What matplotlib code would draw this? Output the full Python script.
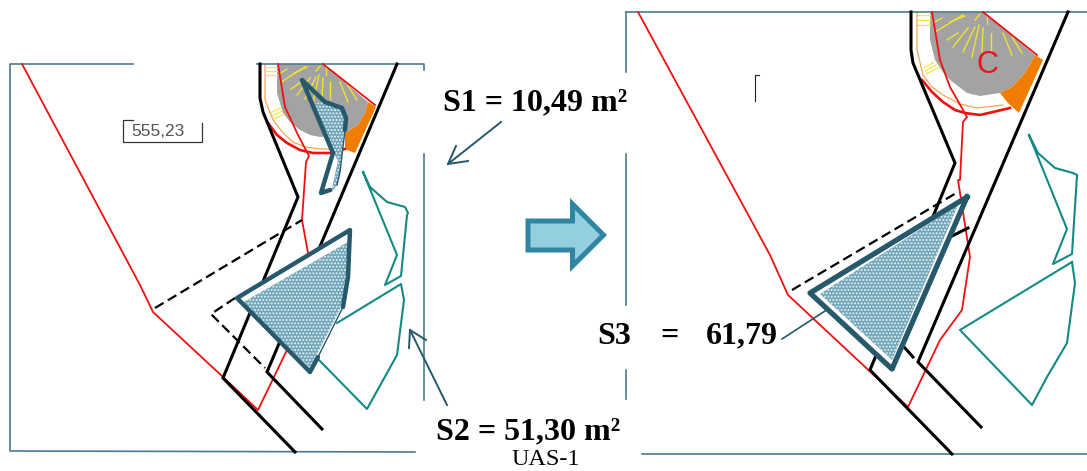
# Site plan comparison, drawn in the pixel coordinates of the picture
import matplotlib
matplotlib.use("Agg")
import matplotlib.pyplot as plt

plt.rcParams['hatch.linewidth'] = 1.0

TEAL = '#26596b'
FRAME = '#4a7c8e'
GREEN = '#138a85'
RED = '#f01010'

# left panel
left_frame = [[(133, 64), (10, 64), (10, 451), (415, 452)], [(257, 64), (424, 64), (424, 70)], [(424, 154), (424, 400)]]
left_black = [[(260, 64), (260, 98), (263, 112), (298, 197), (223, 378), (295, 452)],
              [(397, 64), (267, 372), (322, 429)]]
left_red = [[(22, 64), (140, 285), (153, 312), (223, 377), (258, 410), (287, 350), (308, 253), (302, 220), (306, 162), (309, 156), (298, 135), (285, 107), (278, 64)],
            [(323, 64), (375, 105)]]
left_arc = [[(268, 123), (277, 135), (287, 143), (300, 150), (313, 153), (330, 153), (345, 149)]]
left_dashed = [[(155, 308), (302, 220)], [(235, 298), (211, 314), (265, 368)]]
left_green = [[(363, 172), (397, 255), (385, 285), (401, 276), (407, 215), (408, 213), (405, 207), (387, 202), (370, 187), (363, 172)],
              [(337, 323), (401, 284), (404, 300), (397, 355), (367, 409), (317, 358)]]
left_gray = [(277, 64), (277, 93), (283, 113), (290, 122), (300, 130), (310, 135), (320, 137), (333, 136), (345, 133), (358, 125), (365, 113), (368, 102), (323, 64)]
left_orange = [(368, 102), (376, 107), (355, 153), (345, 149), (345, 133), (358, 125), (365, 113)]
left_thin = [(265, 64), (265, 100), (273, 120), (283, 133), (293, 142), (305, 147), (320, 149), (345, 149)]
left_rays = [[(279, 74), (287, 69)], [(291, 89), (301, 82)], [(297, 95), (310, 78)], [(305, 99), (316, 77)],
             [(313, 103), (319, 75)], [(322, 99), (323, 78)], [(330, 99), (330, 82)], [(326, 75), (326, 67)],
             [(348, 102), (340, 82)], [(357, 100), (348, 86)], [(281, 82), (305, 67)], [(294, 73), (307, 67)], [(316, 71), (320, 66)]]
left_steps = [[(266, 67), (277, 67)], [(266, 71), (277, 71)], [(266, 75), (277, 75)],
              [(270, 113), (280, 108)], [(272, 116), (282, 111)], [(274, 119), (284, 114)]]
s1_thick = [(345, 130), (346, 118), (342, 108), (325, 102), (302, 80), (333, 153), (321, 193), (330, 190)]
s1_edge = [(345, 130), (340, 172), (337, 185)]
s1_fill = [(315, 103), (325, 102), (342, 108), (345, 118), (340, 173), (337, 185), (331, 193), (338, 160), (333, 153)]
s2_thick = [(343, 307), (348, 277), (350, 230), (237, 298), (310, 372), (318, 357)]
s2_edge = [(343, 307), (318, 357)]
s2_outline = [(350, 230), (237, 298), (310, 372), (343, 307)]
s2_fill = [(348, 242), (242, 303), (310, 368), (331, 327), (342, 305), (346, 277)]

# right panel
right_frame = [[(626, 12), (1087, 12)], [(626, 12), (626, 72)], [(626, 154), (626, 305)], [(626, 370), (626, 399)], [(642, 454), (1087, 454)]]
right_black = [[(911, 12), (911, 50), (913, 63), (955, 163), (870, 370), (952, 454)],
               [(1068, 12), (918, 362), (981, 427)],
               [(950, 237), (968, 228)], [(905, 348), (913, 357)]]
right_red = [[(638, 12), (770, 255), (788, 295), (908, 407), (940, 340), (962, 310), (970, 257), (958, 180), (960, 180), (963, 122), (967, 117), (950, 87), (940, 60), (932, 12)],
             [(983, 12), (1037, 55)]]
right_arc = [[(922, 80), (932, 92), (943, 102), (955, 110), (965, 113), (980, 115), (1010, 108)]]
right_dashed = [[(792, 290), (958, 192)]]
right_green = [[(1029, 135), (1067, 229), (1053, 264), (1072, 254), (1077, 175), (1073, 173), (1055, 168), (1038, 153), (1029, 135)],
               [(1072, 262), (1075, 283), (1067, 343), (1047, 377), (1032, 405), (960, 330), (1072, 262)]]
right_gray = [(930, 12), (930, 40), (935, 60), (942, 71), (950, 80), (967, 93), (980, 96), (1000, 93), (1012, 87), (1025, 73), (1035, 55), (983, 12)]
right_orange = [(1035, 55), (1043, 60), (1019, 113), (1008, 103), (1000, 93), (1012, 87), (1025, 73)]
right_thin = [(917, 12), (917, 50), (923, 75), (932, 87), (943, 95), (960, 104), (977, 108), (1003, 105)]
right_rays = [[(933, 23), (942, 18)], [(947, 40), (958, 33)], [(953, 47), (968, 28)], [(963, 52), (975, 27)],
              [(972, 57), (979, 25)], [(982, 52), (983, 28)], [(991, 52), (991, 33)], [(987, 24), (987, 16)],
              [(1012, 55), (1003, 33)], [(1022, 53), (1012, 37)], [(935, 32), (963, 15)], [(950, 22), (965, 16)], [(975, 20), (980, 14)]]
right_steps = [[(917, 15), (930, 15)], [(917, 20), (930, 20)], [(917, 25), (930, 25)],
               [(924, 68), (934, 62)], [(925, 71), (936, 65)], [(926, 74), (938, 68)]]
s3_thick = [(967, 197), (810, 293), (892, 369), (967, 197)]
s3_fill = [(958, 205), (820, 294), (892, 360)]
s3_leader = [(782, 339), (825, 311)]

# arrows and label box
big_arrow = [(528, 221), (572.5, 221), (572.5, 204), (603.5, 235), (572.5, 266), (572.5, 250), (528, 250), (528, 221)]
box_lines = [[(133, 120), (123, 120), (123, 142), (202, 142), (202, 123)]]
tick_lines = [[(759, 75), (755, 75), (755, 101)]]
s1_arrow = [[(501, 122), (448, 164)], [(456, 146), (448, 164), (468, 161)]]
s2_arrow = [[(447, 405), (410, 330)], [(409, 348), (410, 330), (426, 340)]]


def draw(ax, lines, **kw):
    for pts in lines:
        ax.plot([p[0] for p in pts], [p[1] for p in pts], **kw)


def fill(ax, pts, **kw):
    ax.fill([p[0] for p in pts], [p[1] for p in pts], **kw)


fig = plt.figure(figsize=(10.87, 4.71), dpi=100)
ax = fig.add_axes([0, 0, 1, 1])
ax.set_xlim(0, 1087)
ax.set_ylim(471, 0)
ax.axis('off')

for gray, orange in [(left_gray, left_orange), (right_gray, right_orange)]:
    fill(ax, gray, color='#a3a3a3', lw=0)
    fill(ax, orange, color='#f07c00', lw=0)

for rays, steps, thin in [(left_rays, left_steps, left_thin), (right_rays, right_steps, right_thin)]:
    draw(ax, rays, color='#f2e22e', lw=1.0)
    draw(ax, steps, color='#f5e63c', lw=0.9)
    draw(ax, [thin], color='#f5a55a', lw=0.9)

draw(ax, left_frame + right_frame, color=FRAME, lw=1.2)
draw(ax, left_red + right_red, color=RED, lw=1.3)
draw(ax, left_arc + right_arc, color=RED, lw=1.9)
draw(ax, left_green + right_green, color=GREEN, lw=1.5)
draw(ax, left_black + right_black, color='black', lw=2.2, solid_joinstyle='miter')
draw(ax, left_dashed + right_dashed, color='black', lw=1.6, dashes=(4.5, 2.2))

# the shaded parts hide whatever runs under them
fill(ax, s2_outline, color='white', lw=0, zorder=3)
fill(ax, s3_thick, color='white', lw=0, zorder=3)
for pts in [s1_fill, s2_fill, s3_fill]:
    fill(ax, pts, facecolor='#6fa5b8', edgecolor='#e8f1f4', hatch='.....', lw=0, zorder=4)

draw(ax, [s1_edge, s2_edge], color=TEAL, lw=1.0, zorder=5)
draw(ax, [s1_thick, s2_thick], color=TEAL, lw=3.2, solid_joinstyle='round', solid_capstyle='round', zorder=5)
draw(ax, [s3_thick], color=TEAL, lw=3.8, solid_joinstyle='round', zorder=5)
draw(ax, [s3_leader], color=TEAL, lw=1.2)

fill(ax, big_arrow, facecolor='#94cfe0', edgecolor='#2f86a3', lw=3.6, joinstyle='miter')

draw(ax, box_lines, color='#333333', lw=0.9)
draw(ax, tick_lines, color='#222222', lw=0.8)
draw(ax, s1_arrow + s2_arrow, color=TEAL, lw=1.4)

serif = dict(family='Liberation Serif', color='black', va='center')
ax.text(535.5, 102.5, 'S1 = 10,49 m²', ha='center', fontsize=23, fontweight='bold', **serif)
ax.text(528, 431.5, 'S2 = 51,30 m²', ha='center', fontsize=23, fontweight='bold', **serif)
ax.text(597, 336, 'S3', ha='left', fontsize=23, fontweight='bold', **serif)
ax.text(660, 336, '=', ha='left', fontsize=23, fontweight='bold', **serif)
ax.text(706, 336, '61,79', ha='left', fontsize=23, fontweight='bold', **serif)
ax.text(546, 465, 'UAS-1', ha='center', va='baseline', fontsize=17.5, family='Liberation Serif', color='black')
ax.text(131, 132, '555,23', ha='left', va='center', fontsize=12.5, color='#555555', family='Liberation Sans')
ax.text(987, 65, 'C', ha='center', va='center', fontsize=22, color='#e8141c', family='Liberation Sans')

fig.savefig('out.png', dpi=100)
